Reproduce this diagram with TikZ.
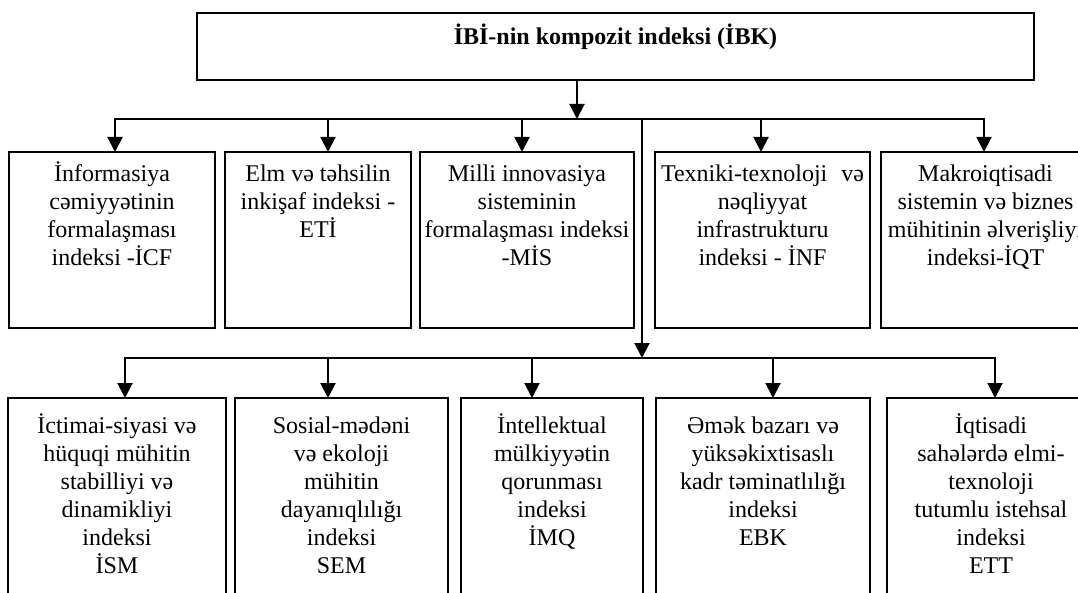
\documentclass[tikz,border=0pt]{standalone}
\usepackage{fontspec}
\setmainfont{Liberation Serif}
\usetikzlibrary{arrows.meta}
\newcommand{\boxtext}[4]{\parbox[t][#2][t]{#1}{\fontsize{24pt}{28pt}\selectfont\centering\rule{0pt}{#3}#4\par}}
\tikzset{
  box/.style={draw, line width=1.8pt, inner sep=0pt, outer sep=0pt, anchor=north west},
  conn/.style={line width=2pt, line cap=rect},
  arr/.style={line width=2pt, -{Triangle[length=15pt,width=15pt]}},
}
\begin{document}
\begin{tikzpicture}[x=1pt,y=-1pt]
\useasboundingbox (0,0) rectangle (1078,593);
\clip (0,0) rectangle (1078,593);
% top box
\node[box] (top) at (197,13) {\parbox[t][67pt][t]{837pt}{\fontsize{24pt}{28pt}\selectfont\centering\bfseries\rule{0pt}{32pt}İBİ-nin kompozit indeksi (İBK)\par}};
% row 1
\node[box] (B1) at (9,152) {\boxtext{206pt}{176pt}{30pt}{İnformasiya\\cəmiyyətinin\\formalaşması\\indeksi -İCF}};
\node[box] (B2) at (225,152) {\boxtext{186pt}{176pt}{30pt}{Elm və təhsilin\\inkişaf indeksi -\\ETİ}};
\node[box] (B3) at (420,152) {\boxtext{214pt}{176pt}{30pt}{Milli innovasiya\\sisteminin\\formalaşması indeksi\\-MİS}};
\node[box] (B4) at (655,152) {\boxtext{215pt}{176pt}{30pt}{Texniki-texnoloji\hspace{14pt}və\\nəqliyyat\\infrastrukturu\\indeksi - İNF}};
\node[box] (B5) at (881,152) {\boxtext{209pt}{176pt}{30pt}{Makroiqtisadi\\sistemin və biznes\\mühitinin əlverişliyi\\indeksi-İQT}};
% row 2
\node[box] (C1) at (8,398) {\boxtext{218pt}{230pt}{35pt}{İctimai-siyasi və\\hüquqi mühitin\\stabilliyi və\\dinamikliyi\\indeksi\\İSM}};
\node[box] (C2) at (235,398) {\boxtext{213pt}{230pt}{35pt}{Sosial-mədəni\\və ekoloji\\mühitin\\dayanıqlılığı\\indeksi\\SEM}};
\node[box] (C3) at (461,398) {\boxtext{182pt}{230pt}{35pt}{İntellektual\\mülkiyyətin\\qorunması\\indeksi\\İMQ}};
\node[box] (C4) at (656,398) {\boxtext{214pt}{230pt}{35pt}{Əmək bazarı və\\yüksəkixtisaslı\\kadr təminatlılığı\\indeksi\\EBK}};
\node[box] (C5) at (887,398) {\boxtext{208pt}{230pt}{35pt}{İqtisadi\\sahələrdə elmi-\\texnoloji\\tutumlu istehsal\\indeksi\\ETT}};
% bus 1
\coordinate (j0) at (577,119);
\coordinate (d1) at (115,119);
\coordinate (d2) at (328,119);
\coordinate (d3) at (522,119);
\coordinate (m1) at (642,119);
\coordinate (d4) at (761,119);
\coordinate (d5) at (984,119);
\draw[arr] (top.south -| j0) -- (j0);
\draw[conn] (d1) -- (d5);
\draw[arr] (d1) -- (d1 |- B1.north);
\draw[arr] (d2) -- (d2 |- B2.north);
\draw[arr] (d3) -- (d3 |- B3.north);
\draw[arr] (d4) -- (d4 |- B4.north);
\draw[arr] (d5) -- (d5 |- B5.north);
% bus 2
\coordinate (m2) at (642,358);
\coordinate (e1) at (125,358);
\coordinate (e2) at (328,358);
\coordinate (e3) at (532,358);
\coordinate (e4) at (773,358);
\coordinate (e5) at (995,358);
\draw[arr] (m1) -- (m2);
\draw[conn] (e1) -- (e5);
\draw[arr] (e1) -- (e1 |- C1.north);
\draw[arr] (e2) -- (e2 |- C2.north);
\draw[arr] (e3) -- (e3 |- C3.north);
\draw[arr] (e4) -- (e4 |- C4.north);
\draw[arr] (e5) -- (e5 |- C5.north);
\end{tikzpicture}
\end{document}
